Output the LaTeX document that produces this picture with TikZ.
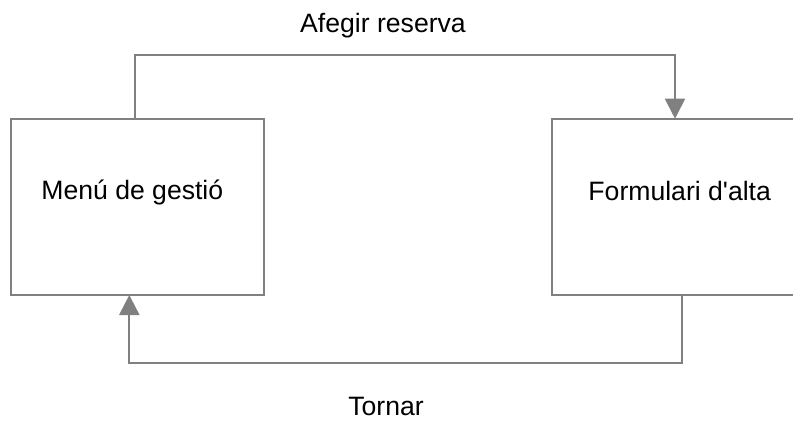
\documentclass[tikz,border=0pt]{standalone}
\usepackage{fontspec}
\setmainfont{Liberation Sans}[Ligatures=TeXOff]
\usetikzlibrary{arrows.meta,calc}
\definecolor{linegray}{RGB}{128,128,128}
\begin{document}
\begin{tikzpicture}[x=1pt,y=-1pt,
  boxshape/.style={draw=linegray,line width=2pt,fill=white,rectangle,inner sep=0pt,outer sep=0pt},
  conn/.style={draw=linegray,line width=2pt,-{Triangle[width=20pt,length=20pt,fill=linegray]}},
  lbl/.style={anchor=base,inner sep=0pt,font=\fontsize{26.6}{32}\selectfont,text=black}]
\useasboundingbox (0,0) rectangle (793,421);
\clip (0,0) rectangle (793,421);
\fill[white] (0,0) rectangle (793,421);
\node[boxshape,minimum width=253pt,minimum height=176.3pt] (menu) at (137.5,206.85) {};
\node[boxshape,minimum width=278.3pt,minimum height=176.3pt] (form) at (690.85,206.85) {};
\node[lbl] (menut) at (132.3,199) {Menú de gestió};
\node[lbl] (formt) at (679.7,200.7) {Formulari d'alta};
\node[lbl] (afegir) at (383,32.5) {Afegir reserva};
\node[lbl] (tornar) at (386,415.7) {Tornar};
\coordinate (t1) at (135,54.5);
\coordinate (t2) at (675,54.5);
\coordinate (b1) at (681.7,362.7);
\coordinate (b2) at (129.3,362.7);
\draw[conn] (menu.north -| t1) -- (t1) -- (t2) -- (form.north -| t2);
\draw[conn] (form.south -| b1) -- (b1) -- (b2) -- (menu.south -| b2);
\end{tikzpicture}
\end{document}
